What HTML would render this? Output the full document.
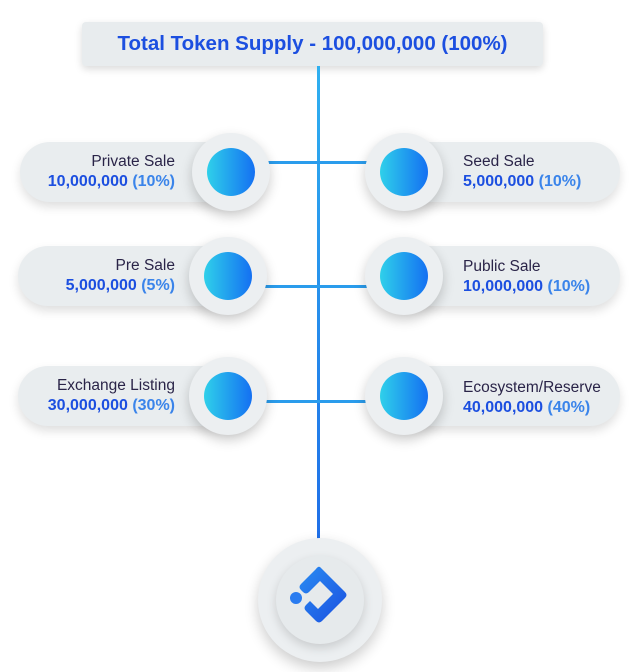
<!DOCTYPE html>
<html><head><style>
body{margin:0;width:640px;height:672px;background:#fff;position:relative;overflow:hidden;font-family:"Liberation Sans",sans-serif}
.a{position:absolute}
.hdr{left:82px;top:22px;width:461px;height:44px;background:#e8ecee;border-radius:4px;box-shadow:0 3px 8px rgba(0,0,0,.15);text-align:center;line-height:44px;font-weight:bold;font-size:20.5px;color:#1c4fe0}
.vl{left:317px;top:66px;width:3px;height:474px;background:linear-gradient(#2fb0f0,#1f6fe8)}
.hl{height:3px;background:#2a9cec}
.pill{height:60px;background:#e9edef;border-radius:30px;box-shadow:0 5px 10px rgba(0,0,0,.13)}
.ring{width:78px;height:78px;border-radius:50%;background:#eceff1;box-shadow:0 5px 12px rgba(0,0,0,.2)}
.dot{width:48px;height:48px;border-radius:50%;background:linear-gradient(90deg,#2fd0ea,#1470f2);left:15px;top:15px}
.t{font-size:15.5px;line-height:20px;color:#2a2448}
.t b{color:#1c4fe0;font-size:16px}.t span{color:#3a84ea;font-weight:bold;font-size:16px}
.L{text-align:right;width:200px}
</style></head><body>
<div class="a hdr">Total Token Supply - 100,000,000 (100%)</div>
<div class="a vl"></div>

<div class="a hl" style="left:265px;top:161px;width:55px"></div>
<div class="a hl" style="left:318px;top:161px;width:50px"></div>
<div class="a hl" style="left:265px;top:285px;width:55px"></div>
<div class="a hl" style="left:318px;top:285px;width:50px"></div>
<div class="a hl" style="left:265px;top:400px;width:55px"></div>
<div class="a hl" style="left:318px;top:400px;width:50px"></div>

<div class="a pill" style="left:20px;top:142px;width:240px"></div>
<div class="a pill" style="left:18px;top:246px;width:240px"></div>
<div class="a pill" style="left:18px;top:366px;width:240px"></div>
<div class="a pill" style="left:380px;top:142px;width:240px"></div>
<div class="a pill" style="left:380px;top:246px;width:240px"></div>
<div class="a pill" style="left:380px;top:366px;width:240px"></div>

<div class="a ring" style="left:192px;top:133px"><div class="a dot"></div></div>
<div class="a ring" style="left:189px;top:237px"><div class="a dot"></div></div>
<div class="a ring" style="left:189px;top:357px"><div class="a dot"></div></div>
<div class="a ring" style="left:365px;top:133px"><div class="a dot"></div></div>
<div class="a ring" style="left:365px;top:237px"><div class="a dot"></div></div>
<div class="a ring" style="left:365px;top:357px"><div class="a dot"></div></div>

<div class="a t L" style="left:-25px;top:152px">Private Sale<br><b>10,000,000 </b><span>(10%)</span></div>
<div class="a t L" style="left:-25px;top:256px">Pre Sale<br><b>5,000,000 </b><span>(5%)</span></div>
<div class="a t L" style="left:-25px;top:376px">Exchange Listing<br><b>30,000,000 </b><span>(30%)</span></div>
<div class="a t" style="left:463px;top:152px">Seed Sale<br><b>5,000,000 </b><span>(10%)</span></div>
<div class="a t" style="left:463px;top:257px">Public Sale<br><b>10,000,000 </b><span>(10%)</span></div>
<div class="a t" style="left:463px;top:378px">Ecosystem/Reserve<br><b>40,000,000 </b><span>(40%)</span></div>

<div class="a" style="left:258px;top:538px;width:124px;height:124px;border-radius:50%;background:#eceff1;box-shadow:0 6px 14px rgba(0,0,0,.2)"></div>
<div class="a" style="left:276px;top:556px;width:88px;height:88px;border-radius:50%;background:#e6eaec;box-shadow:0 4px 10px rgba(0,0,0,.15)"></div>
<svg class="a" style="left:280px;top:560px" width="80" height="80" viewBox="0 0 80 80">
<defs><linearGradient id="g" x1="0" y1="0" x2="1" y2="1"><stop offset="0" stop-color="#2a8cf2"/><stop offset="1" stop-color="#1a4fe0"/></linearGradient></defs>
<circle cx="16" cy="38" r="6" fill="#2a7cf0"/>
<path d="M40 7 L65 32 Q68 35 65 38 L42 61 Q39 64 36 61 L26 51 Q23 48 26 45 L30 41 L38 49 L53 34 L40 21 L29 32 Q26 35 23 32 L21 30 Q18 27 21 24 L36 9 Q38 6 40 7Z" fill="url(#g)"/>
</svg>
</body></html>
